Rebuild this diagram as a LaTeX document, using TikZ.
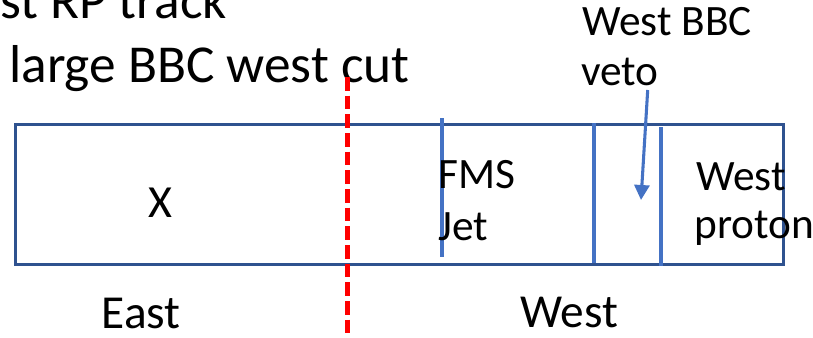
\documentclass[tikz,border=0pt]{standalone}
\usepackage{fontspec}
\setmainfont{Carlito}
\usetikzlibrary{arrows.meta}
\definecolor{boxblue}{HTML}{2F528F}
\definecolor{lineblue}{HTML}{4472C4}
\definecolor{cutred}{HTML}{FF0000}
\begin{document}
\begin{tikzpicture}[x=0.75pt,y=-0.75pt,
  lbl/.style={inner sep=0pt, anchor=base west, font=\fontsize{32.5}{38}\selectfont},
  side/.style={inner sep=0pt, anchor=base west, text depth=0pt, font=\fontsize{35.5}{42}\selectfont},
  big/.style={inner sep=0pt, anchor=base west, font=\fontsize{40}{48}\selectfont},
  xlbl/.style={inner sep=0pt, anchor=base, font=\fontsize{34.5}{40}\selectfont},
  outer/.style={draw=boxblue, line width=2.6pt},
  divider/.style={draw=lineblue, line width=2.4pt},
  cutline/.style={draw=cutred, line width=3.75pt, dash pattern=on 10.3pt off 3.7pt},
  pointer/.style={draw=lineblue, line width=2.3pt, -{Triangle[length=11.25pt,width=11.25pt]}},
]
\useasboundingbox (0,0) rectangle (813,337);
\clip (0,0) rectangle (813,337);
% top texts
\node[big] (t1) at (0,18) {st RP track};
\node[big] (t2) at (9,82) {large BBC west cut};
% detector box
\node[outer, inner sep=0pt, minimum width=576pt, minimum height=105pt, anchor=north west] (box) at (14,123) {};
\draw[divider] (442,118) -- (442,257);
\draw[divider] (594,123) -- (594,263);
\draw[divider] (661,127) -- (661,266);
% cut line
\coordinate (cuttop) at (347.5,77);
\coordinate (cutbot) at (347.5,333);
\draw[cutline] (cuttop) -- (cutbot);
% labels
\node[xlbl] (x) at (160,217) {X};
\node[lbl] (fms) at (438,188.5) {FMS};
\node[lbl] (jet) at (438,240) {Jet};
\node[lbl] (wp1) at (696,190) {West};
\node[lbl] (wp2) at (694.5,238) {proton};
\node[lbl] (wb1) at (582,35) {West BBC};
\node[lbl] (wb2) at (581,85) {veto};
\node[side] (east) at (101.5,328.5) {East};
\node[side] (west) at (520,327) {West};
% arrow
\coordinate (arrstart) at (647.7,90);
\coordinate (arrtip) at (641,200);
\draw[pointer] (arrstart) -- (arrtip);
\end{tikzpicture}
\end{document}
